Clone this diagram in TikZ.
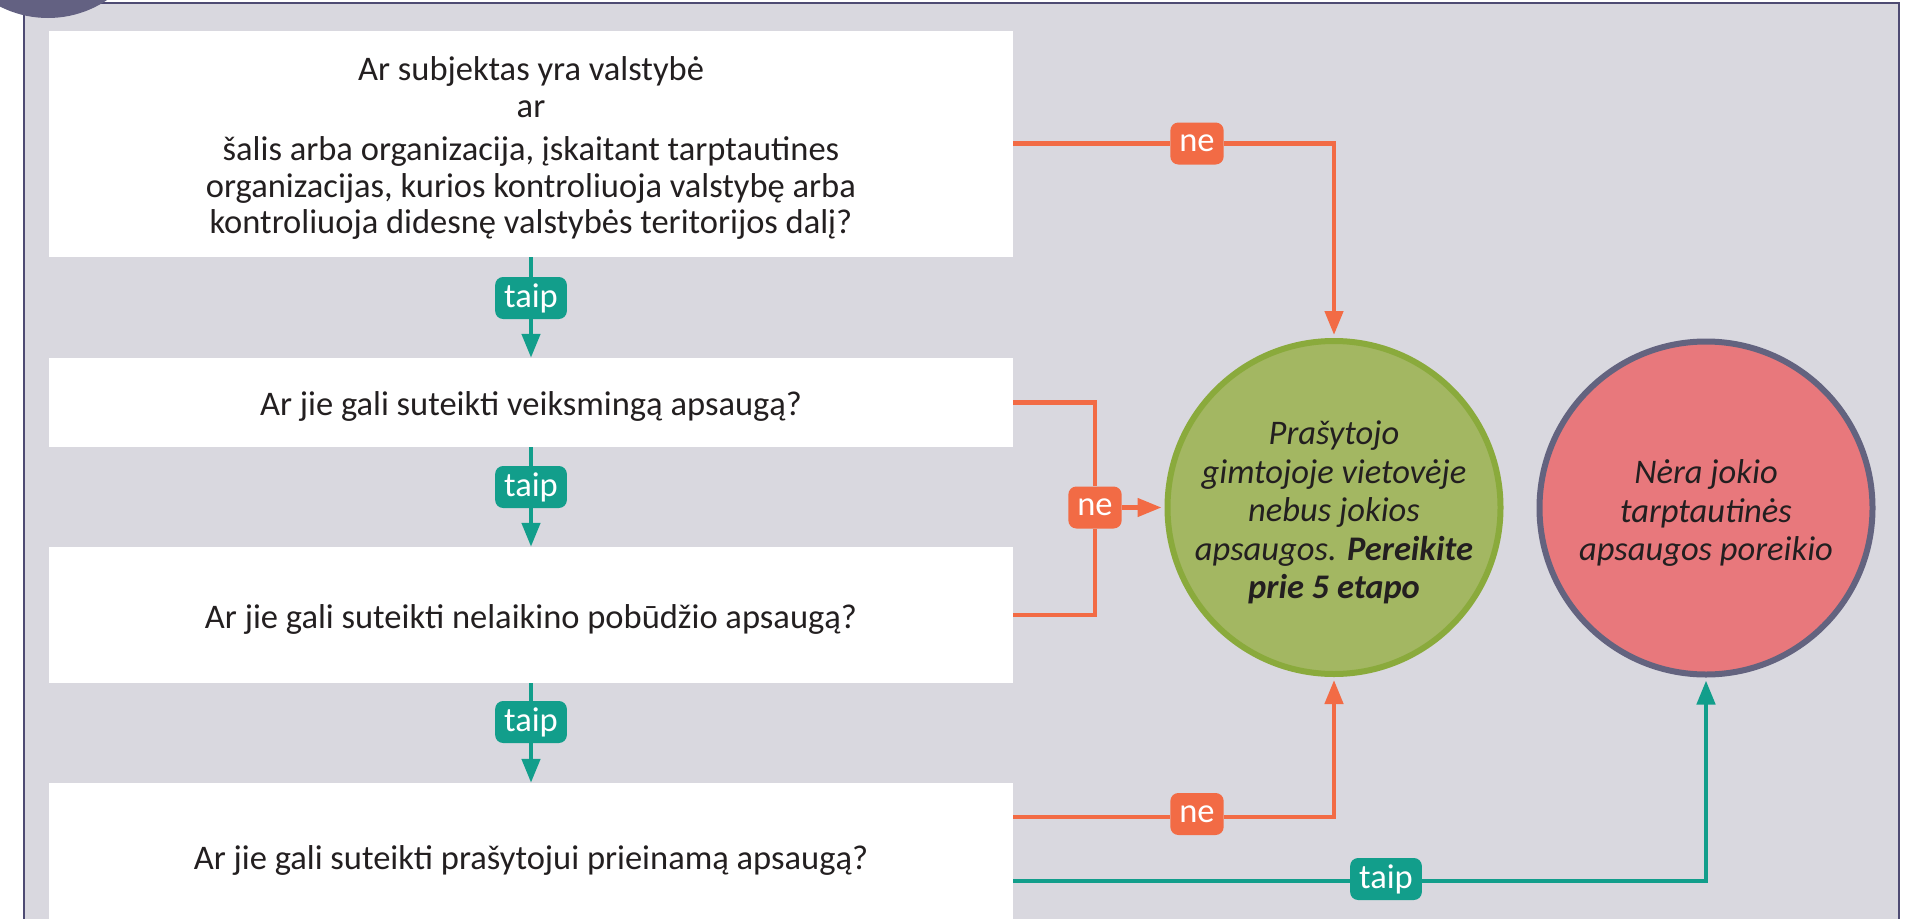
\documentclass[tikz,border=0pt]{standalone}
\usepackage{fontspec}
\setmainfont{Carlito}
\usetikzlibrary{arrows.meta,calc}
\definecolor{panelbg}{HTML}{D9D8DF}
\definecolor{panelline}{HTML}{4E4B73}
\definecolor{badgec}{HTML}{636182}
\definecolor{orng}{HTML}{F26B45}
\definecolor{tealc}{HTML}{129E8B}
\definecolor{gfill}{HTML}{A3B762}
\definecolor{gline}{HTML}{8AAA3C}
\definecolor{rfill}{HTML}{E8787C}
\definecolor{rline}{HTML}{63637F}
\definecolor{txt}{HTML}{231F20}
\begin{document}
\begin{tikzpicture}[x=1pt,y=-1pt,
 qbox/.style={rectangle, fill=white, draw=none, minimum width=964pt, inner sep=0pt},
 qtext/.style={align=center, text=txt, font=\fontsize{34.5}{36.5}\selectfont, inner sep=0pt},
 endcirc/.style={circle, minimum size=333pt, line width=6pt, inner sep=0pt},
 ctext/.style={align=center, text=txt, font=\fontsize{34.5}{38.5}\selectfont\itshape, inner sep=0pt},
 yesbadge/.style={rectangle, fill=tealc, text=white, rounded corners=8pt, minimum height=42pt, inner xsep=9pt, inner ysep=0pt, font=\fontsize{34.5}{36}\selectfont},
 nobadge/.style={yesbadge, fill=orng},
 yesline/.style={draw=tealc, line width=4.5pt},
 noline/.style={draw=orng, line width=4.5pt},
 arrowend/.style={-{Triangle[length=24pt,width=18pt]}}
]
\path[use as bounding box] (0,0) rectangle (1929,918);
\clip (0,0) rectangle (1929,918);
\fill[white] (0,0) rectangle (1929,918);
% panel
\draw[fill=panelbg, draw=panelline, line width=2pt] (24,3) rectangle (1899,940);
\fill[badgec] (48,-88) circle (106);

% question boxes
\node[qbox, minimum height=226pt] (b1) at (531,144) {};
\node[qbox, minimum height=89pt] (b2) at (531,402.5) {};
\node[qbox, minimum height=136pt] (b3) at (531,615) {};
\node[qbox, minimum height=148pt] (b4) at (531,857) {};
\node[qtext] (b1t) at ($(b1.center)+(0,4)$) {Ar subjektas yra valstybė\\ar\\[7pt]šalis arba organizacija, įskaitant tarptautines\\organizacijas, kurios kontroliuoja valstybę arba\\kontroliuoja didesnę valstybės teritorijos dalį?};
\node[qtext] (b2t) at ($(b2.center)+(0,4)$) {Ar jie gali suteikti veiksmingą apsaugą?};
\node[qtext] (b3t) at ($(b3.center)+(0,4)$) {Ar jie gali suteikti nelaikino pobūdžio apsaugą?};
\node[qtext] (b4t) at ($(b4.center)+(0,3)$) {Ar jie gali suteikti prašytojui prieinamą apsaugą?};

% outcome circles
\node[endcirc, fill=gfill, draw=gline] (g) at (1334,507.5) {};
\node[endcirc, fill=rfill, draw=rline] (r) at (1706,508) {};
\node[ctext] (gt) at ($(g.center)+(0,5)$) {Prašytojo\\gimtojoje vietovėje\\nebus jokios\\apsaugos. \textbf{Pereikite}\\\textbf{prie 5 etapo}};
\node[ctext] (rt) at ($(r.center)+(0,5)$) {Nėra jokio\\tarptautinės\\apsaugos poreikio};

% badges
\node[yesbadge] (t1) at (531,298) {taip};
\node[yesbadge] (t2) at (531,487) {taip};
\node[yesbadge] (t3) at (531,722) {taip};
\node[nobadge] (n1) at (1197,143.5) {ne};
\node[nobadge] (n2) at (1095,507.5) {ne};
\node[nobadge] (n3) at (1197,814) {ne};
\node[yesbadge] (t4) at (1386,879) {taip};

\coordinate (b4no) at ($(b4.east)+(0,-40)$);
\coordinate (b4yes) at ($(b4.east)+(0,24)$);
\coordinate (b1no) at (b1.east |- n1);

% yes chain
\draw[yesline] (b1.south) -- (t1.north);
\draw[yesline, arrowend] (t1.south) -- (b2.north);
\draw[yesline] (b2.south) -- (t2.north);
\draw[yesline, arrowend] (t2.south) -- (b3.north);
\draw[yesline] (b3.south) -- (t3.north);
\draw[yesline, arrowend] (t3.south) -- (b4.north);

% no branches
\draw[noline] (b1no) -- (n1.west);
\draw[noline, arrowend, shorten >=3pt] (n1.east) -| (g.north);
\draw[noline] (b2.east) -| (n2.north);
\draw[noline] (b3.east) -| (n2.south);
\draw[noline, arrowend, shorten >=3pt] (n2.east) -- (g.west);
\draw[noline] (b4no) -- (b4no -| n3.west);
\draw[noline, arrowend, shorten >=3pt] (n3.east |- b4no) -| (g.south);

% final yes
\draw[yesline] (b4yes) -- (b4yes -| t4.west);
\draw[yesline, arrowend, shorten >=3pt] (t4.east |- b4yes) -| (r.south);
\end{tikzpicture}
\end{document}
